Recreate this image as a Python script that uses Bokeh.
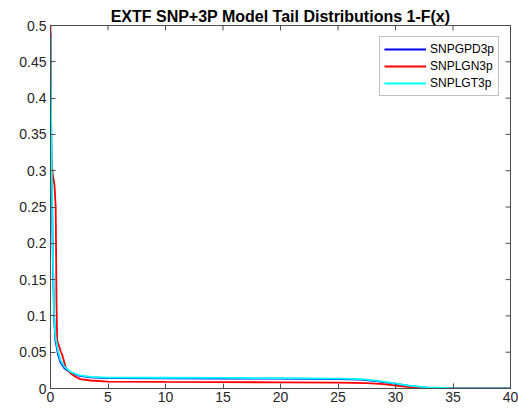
import math
from bokeh.plotting import figure
from bokeh.models import FixedTicker, LinearAxis, Range1d, Legend, LegendItem
from bokeh.embed import file_html
from bokeh.resources import INLINE

title_text = "EXTF SNP+3P Model Tail Distributions 1-F(x)"
series_names = ["SNPGPD3p", "SNPLGN3p", "SNPLGT3p"]

gpd_x = [0, 0.02, 0.09, 0.2, 0.32, 0.43, 0.64, 0.87, 1.21, 1.73, 2.45, 3.47, 5, 10, 15, 20, 25, 27, 28.5, 29.8, 31.3, 32.8, 34.8, 37, 40]
gpd_y = [0.49, 0.41, 0.32, 0.18, 0.095, 0.066, 0.048, 0.036, 0.028, 0.022, 0.0176, 0.0153, 0.0142, 0.014, 0.0138, 0.0135, 0.0128, 0.0122, 0.0098, 0.007, 0.0032, 0.0013, 0.0004, 0.0001, 0]

lgn_x = [0, 0.05, 0.1, 0.2, 0.35, 0.45, 0.48, 0.52, 0.58, 0.87, 1.0, 1.15, 1.3, 1.73, 2.2, 2.6, 3.5, 5, 10, 15, 20, 25, 27.5, 29, 30, 31, 32, 33, 35, 40]
lgn_y = [0.5, 0.33, 0.31, 0.295, 0.28, 0.25, 0.2, 0.12, 0.066, 0.052, 0.047, 0.039, 0.03, 0.021, 0.016, 0.013, 0.011, 0.0095, 0.009, 0.0088, 0.0085, 0.008, 0.0075, 0.006, 0.004, 0.0023, 0.001, 0.0005, 0.0001, 0]

lgt_x = [0, 0.02, 0.09, 0.2, 0.32, 0.43, 0.64, 0.87, 1.21, 1.73, 2.45, 3.47, 5, 10, 15, 20, 25, 27, 28.5, 29.8, 31.3, 32.8, 34.8, 37, 40]
lgt_y = [0.484, 0.42, 0.33, 0.19, 0.1, 0.071, 0.052, 0.039, 0.03, 0.023, 0.0184, 0.016, 0.015, 0.0148, 0.0145, 0.0142, 0.0135, 0.0128, 0.0105, 0.0075, 0.0035, 0.0015, 0.0005, 0.0002, 0]

x_ticks = [0, 5, 10, 15, 20, 25, 30, 35, 40]
y_ticks = [0, 0.05, 0.1, 0.15, 0.2, 0.25, 0.3, 0.35, 0.4, 0.45, 0.5]
y_tick_labels = ["0", "0.05", "0.1", "0.15", "0.2", "0.25", "0.3", "0.35", "0.4", "0.45", "0.5"]

FONT = "Liberation Sans"
AX = "#4d4d4d"
X_MIN, X_MAX, Y_MIN, Y_MAX = 0, 40, 0, 0.5

p = figure(width=518, height=411, output_backend="svg", toolbar_location=None,
           x_range=Range1d(X_MIN, X_MAX), y_range=Range1d(Y_MIN, Y_MAX),
           min_border_left=50, min_border_right=8, min_border_top=25, min_border_bottom=23,
           x_axis_type=None, y_axis_type=None)
p.grid.visible = False
p.outline_line_color = AX
p.outline_line_width = 1
p.background_fill_color = "white"
p.border_fill_color = "white"

p.title.text = title_text
p.title.text_font = FONT
p.title.text_font_size = "16px"
p.title.text_font_style = "bold"
p.title.text_color = "#000000"
p.title.align = "center"
p.title.offset = 0
p.title.standoff = 1


def style_axis(ax):
    ax.axis_line_color = AX
    ax.major_tick_line_color = AX
    ax.major_tick_in = 5
    ax.major_tick_out = 0
    ax.minor_tick_line_color = None
    ax.major_label_text_font = FONT
    ax.major_label_text_font_size = "14px"
    ax.major_label_text_color = "#262626"
    ax.major_label_standoff = 4
    ax.axis_label = None


xb = LinearAxis(ticker=FixedTicker(ticks=x_ticks))
style_axis(xb)
xb.major_label_standoff = 3
p.add_layout(xb, "below")
yl = LinearAxis(ticker=FixedTicker(ticks=y_ticks))
yl.major_label_overrides = {t: s for t, s in zip(y_ticks, y_tick_labels)}
style_axis(yl)
p.add_layout(yl, "left")

# inward ticks on the top and right edges of the box (half of each dash is clipped by the frame)
p.scatter(x_ticks, [Y_MAX] * len(x_ticks), marker="dash", size=10, angle=math.pi / 2,
          line_color=AX, line_width=1)
p.scatter([X_MAX] * len(y_ticks), y_ticks, marker="dash", size=10,
          line_color=AX, line_width=1)

r1 = p.line(gpd_x, gpd_y, line_color="#0000FF", line_width=1.8)
r2 = p.line(lgn_x, lgn_y, line_color="#FF0000", line_width=1.8)
r3 = p.line(lgt_x, lgt_y, line_color="#00FFFF", line_width=1.8)

legend = Legend(items=[LegendItem(label=series_names[0], renderers=[r1]),
                       LegendItem(label=series_names[1], renderers=[r2]),
                       LegendItem(label=series_names[2], renderers=[r3])],
                location="top_right")
legend.margin = 11
legend.padding = 4
legend.spacing = 1
legend.glyph_width = 42
legend.glyph_height = 16
legend.label_height = 16
legend.label_standoff = 4
legend.label_text_font = FONT
legend.label_text_font_size = "12px"
legend.label_text_color = "#000000"
legend.border_line_color = "#808080"
legend.border_line_width = 1
legend.background_fill_color = "white"
legend.background_fill_alpha = 1
p.add_layout(legend, "center")

open("out.html", "w").write(file_html(p, INLINE))
